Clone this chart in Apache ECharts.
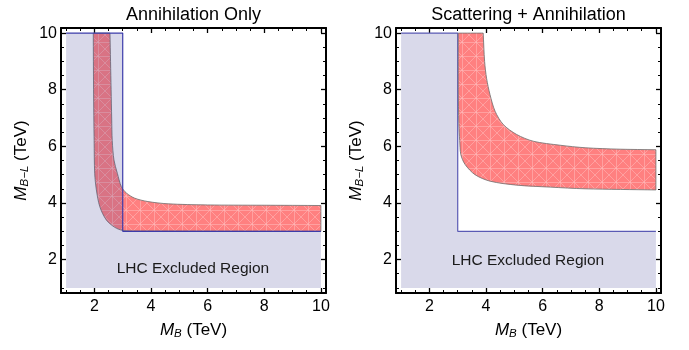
<!DOCTYPE html>
<html><head><meta charset="utf-8">
<script src="https://cdn.jsdelivr.net/npm/echarts@6/dist/echarts.min.js"></script>
<style>html,body{margin:0;padding:0;background:#fff}#c{width:689px;height:350px}</style>
</head><body><div id="c"></div>
<script>
// ---------- data ----------
const axisMin = 0.82, axisMax = 10.18;
const majorTicks = [2, 4, 6, 8, 10];
const minorTicks = [1, 1.5, 2.5, 3, 3.5, 4.5, 5, 5.5, 6.5, 7, 7.5, 8.5, 9, 9.5];
const panelTitles = ['Annihilation Only', 'Scattering + Annihilation'];
const xAxisName = '{i|M}{s|B} (TeV)';
const yAxisName = '{i|M}{s|B\u2212L} (TeV)';
const lhcRegionX = [1, 3, 3, 10, 10, 1];
const lhcRegionY = [10, 10, 3, 3, 1, 1];
const lhcEdgeX = [1, 3, 3, 10];
const lhcEdgeY = [10, 10, 3, 3];
const lhcLabel = 'LHC Excluded Region';
const lhcLabelLeft = [5.48, 1.67];
const lhcLabelRight = [5.48, 1.95];
// Annihilation only band
const annOuterX = [2.55, 2.57, 2.59, 2.61, 2.63, 2.69, 2.81, 2.95, 3.13, 3.42, 3.89, 4.6, 6, 8, 10];
const annOuterY = [10, 9, 8, 7, 6.2, 5.52, 5.05, 4.58, 4.35, 4.17, 4.05, 3.97, 3.93, 3.92, 3.91];
const annInnerX = [1.96, 1.97, 1.99, 2.01, 2.07, 2.19, 2.42, 2.72, 3.01, 4, 10];
const annInnerY = [10, 8, 6.2, 5.05, 4.46, 3.87, 3.4, 3.14, 3.03, 3.01, 3.0];
// Scattering + annihilation band
const scatOuterX = [3.9, 3.95, 4.02, 4.14, 4.32, 4.61, 5.08, 5.67, 6.61, 7.5, 8.7, 10];
const scatOuterY = [10, 9, 8.4, 7.83, 7.24, 6.77, 6.42, 6.18, 6.04, 5.95, 5.9, 5.88];
const scatInnerX = [3.02, 3.02, 3.04, 3.07, 3.11, 3.26, 3.61, 4.14, 5.08, 6.26, 7.5, 10];
const scatInnerY = [10, 8, 6.8, 6.2, 5.71, 5.36, 5.0, 4.77, 4.63, 4.56, 4.5, 4.46];

// ---------- helpers ----------
const FONT = '"Liberation Sans", Arial, sans-serif';
function zip(xs, ys) { return xs.map((x, i) => [x, ys[i]]); }

function makePattern() {
  const s = 14, c = document.createElement('canvas');
  c.width = s; c.height = s;
  const g = c.getContext('2d');
  g.fillStyle = '#ff8080'; g.fillRect(0, 0, s, s);
  g.strokeStyle = 'rgba(255,185,185,0.55)'; g.lineWidth = 1;
  g.beginPath();
  g.moveTo(0, 0.5); g.lineTo(s, 0.5);
  g.moveTo(0.5, 0); g.lineTo(0.5, s);
  g.moveTo(0, 0); g.lineTo(s, s);
  g.moveTo(s, 0); g.lineTo(0, s);
  g.stroke();
  return c;
}
const pattern = { image: makePattern(), repeat: 'repeat' };

const nameStyle = {
  color: '#000', fontSize: 17, fontFamily: FONT, lineHeight: 20,
  rich: {
    i: { fontStyle: 'italic', fontSize: 17, fontFamily: FONT, color: '#000', lineHeight: 20 },
    s: { fontStyle: 'italic', fontSize: 11.5, fontFamily: FONT, color: '#000', lineHeight: 8, verticalAlign: 'bottom' }
  }
};

function axesFor(dim, g) {
  const base = { gridIndex: g, type: 'value', min: axisMin, max: axisMax, splitLine: { show: false } };
  const pos = dim === 'x' ? ['bottom', 'top'] : ['left', 'right'];
  const major = { show: true, inside: true, length: 5, customValues: majorTicks, lineStyle: { color: '#000', width: 1.3 } };
  const minor = { show: true, inside: true, length: 3, customValues: minorTicks, lineStyle: { color: '#000', width: 1 } };
  const line = { show: true, onZero: false, lineStyle: { color: '#000', width: 2 } };
  return [
    Object.assign({}, base, {
      position: pos[0], axisLine: line, axisTick: major,
      axisLabel: { show: true, customValues: majorTicks, color: '#000', fontSize: 16, fontFamily: FONT, margin: dim === 'x' ? 6 : 4 },
      name: dim === 'x' ? xAxisName : yAxisName, nameLocation: 'middle',
      nameGap: dim === 'x' ? 27 : 30, nameTextStyle: nameStyle
    }),
    Object.assign({}, base, { position: pos[0], axisLine: { show: false, onZero: false }, axisTick: minor, axisLabel: { show: false } }),
    Object.assign({}, base, { position: pos[1], axisLine: line, axisTick: major, axisLabel: { show: false } }),
    Object.assign({}, base, { position: pos[1], axisLine: { show: false, onZero: false }, axisTick: minor, axisLabel: { show: false } })
  ];
}

// Band polygon with library smoothing; corner vertices repeated so corners stay sharp
function bandSeries(ai, ox, oy, ix, iy, z) {
  return {
    type: 'custom', xAxisIndex: ai, yAxisIndex: ai, z: z, silent: true, data: [[5, 5]],
    renderItem: (p, api) => {
      const outer = zip(ox, oy).map(q => api.coord(q));
      const inner = zip(ix, iy).map(q => api.coord(q)).reverse();
      const ring = [outer[0]].concat(outer, [outer[outer.length - 1]], [inner[0]], inner, [inner[inner.length - 1]]);
      return {
        type: 'polygon', shape: { points: ring, smooth: 0.3 },
        style: { fill: pattern, stroke: 'rgba(110,110,110,0.8)', lineWidth: 1 }
      };
    }
  };
}
function polySeries(ai, pts, style, z) {
  return {
    type: 'custom', xAxisIndex: ai, yAxisIndex: ai, z: z, silent: true, data: [[5, 5]],
    renderItem: (p, api) => ({ type: 'polygon', shape: { points: pts.map(q => api.coord(q)) }, style: style })
  };
}
function lineSeries(ai, pts, color, z) {
  return {
    type: 'line', xAxisIndex: ai, yAxisIndex: ai, z: z, silent: true, data: pts,
    showSymbol: false, symbol: 'none', lineStyle: { color: color, width: 1.2 }, animation: false
  };
}
function textSeries(ai, pos, text, z) {
  return {
    type: 'custom', xAxisIndex: ai, yAxisIndex: ai, z: z, silent: true, data: [pos],
    renderItem: (p, api) => {
      const c = api.coord([api.value(0), api.value(1)]);
      return { type: 'text', x: c[0], y: c[1], style: { text: text, fill: '#1a1a1a', font: '15.5px ' + FONT, align: 'center', verticalAlign: 'middle', textAlign: 'center', textVerticalAlign: 'middle' } };
    }
  };
}

const grids = [
  { left: 61, top: 28, width: 265, height: 265, outerBoundsMode: 'none' },
  { left: 396, top: 28, width: 265, height: 265, outerBoundsMode: 'none' }
];

const series = [
  // left panel: band under translucent LHC region
  bandSeries(0, annOuterX, annOuterY, annInnerX, annInnerY, 1),
  polySeries(0, zip(lhcRegionX, lhcRegionY), { fill: 'rgba(65,65,150,0.2)' }, 2),
  lineSeries(0, zip(lhcEdgeX, lhcEdgeY), '#3c3caa', 3),
  textSeries(0, lhcLabelLeft, lhcLabel, 4),
  // right panel
  polySeries(4, zip(lhcRegionX, lhcRegionY), { fill: '#d9d9ea' }, 1),
  lineSeries(4, zip(lhcEdgeX, lhcEdgeY), '#5a5ab4', 2),
  bandSeries(4, scatOuterX, scatOuterY, scatInnerX, scatInnerY, 3),
  textSeries(4, lhcLabelRight, lhcLabel, 4)
];

const option = {
  animation: false,
  backgroundColor: '#fff',
  grid: grids,
  xAxis: axesFor('x', 0).concat(axesFor('x', 1)),
  yAxis: axesFor('y', 0).concat(axesFor('y', 1)),
  series: series,
  graphic: grids.map((g, i) => ({
    type: 'text', x: g.left + g.width / 2, y: 15,
    style: { text: panelTitles[i], fill: '#000', font: '18px ' + FONT, align: 'center', verticalAlign: 'middle', textAlign: 'center', textVerticalAlign: 'middle' }
  }))
};

const chart = echarts.init(document.getElementById('c'), null, { renderer: 'canvas' });
chart.setOption(option);
</script>
</body></html>
